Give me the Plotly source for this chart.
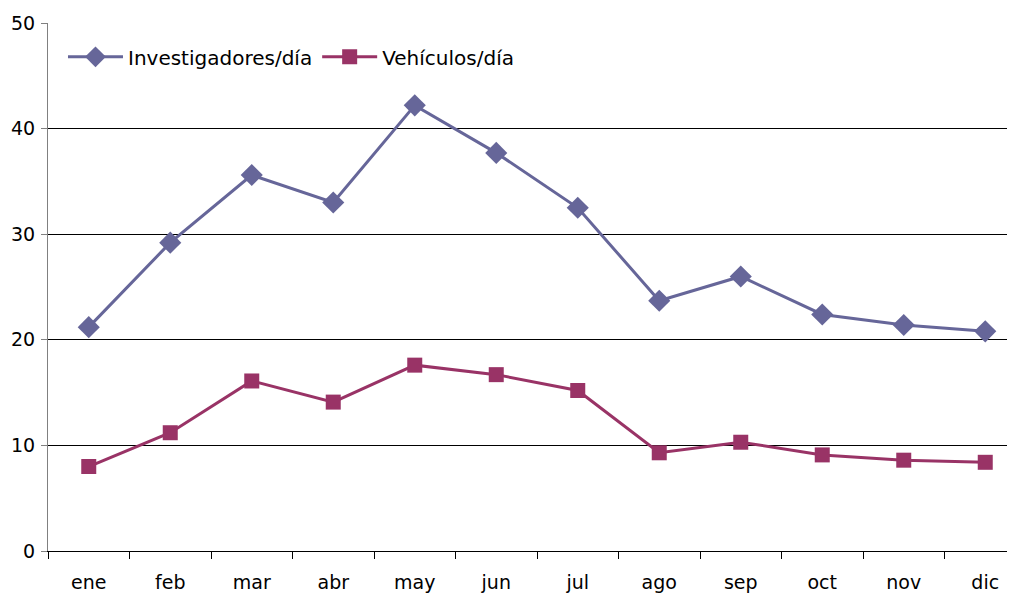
import plotly.graph_objects as go

months = ["ene", "feb", "mar", "abr", "may", "jun", "jul", "ago", "sep", "oct", "nov", "dic"]
investigadores = [21.2, 29.2, 35.6, 33.0, 42.2, 37.7, 32.5, 23.7, 26.0, 22.4, 21.4, 20.8]
vehiculos = [8.0, 11.2, 16.1, 14.1, 17.6, 16.7, 15.2, 9.3, 10.3, 9.1, 8.6, 8.4]
y_ticks = [0, 10, 20, 30, 40, 50]

fig = go.Figure()
fig.add_trace(go.Scatter(
    x=months, y=investigadores, name="Investigadores/día", mode="lines+markers",
    line=dict(color="#666699", width=3),
    marker=dict(symbol="diamond", size=17, color="#666699"),
))
fig.add_trace(go.Scatter(
    x=months, y=vehiculos, name="Vehículos/día", mode="lines+markers",
    line=dict(color="#993366", width=3),
    marker=dict(symbol="square", size=15, color="#993366"),
))

# page body has an 8px default margin, so the figure is sized to fit the window
fig.update_layout(
    width=1007, height=587,
    margin=dict(l=40, r=0, t=15, b=44),
    paper_bgcolor="white", plot_bgcolor="white",
    font=dict(family="DejaVu Sans, Liberation Sans, Arial, sans-serif", size=19, color="black"),
    showlegend=True,
    legend=dict(orientation="h", x=0.0155, y=0.936, xanchor="left", yanchor="middle",
                bgcolor="rgba(0,0,0,0)", itemwidth=55, font=dict(size=20)),
    xaxis=dict(
        type="category", range=[-0.5, 11.365], automargin=False,
        showgrid=False, showline=True, linecolor="black", linewidth=1,
        ticks="outside", tickson="boundaries", ticklen=7, tickcolor="black",
        ticklabelstandoff=14, zeroline=False,
    ),
    yaxis=dict(
        range=[0, 50], tickvals=y_ticks, showgrid=True, gridcolor="black", gridwidth=1,
        showline=True, linecolor="#808080", linewidth=1, automargin=False,
        ticks="outside", ticklen=6, tickcolor="#808080", zeroline=False,
        ticklabelstandoff=2,
    ),
)

fig.write_html("out.html")
